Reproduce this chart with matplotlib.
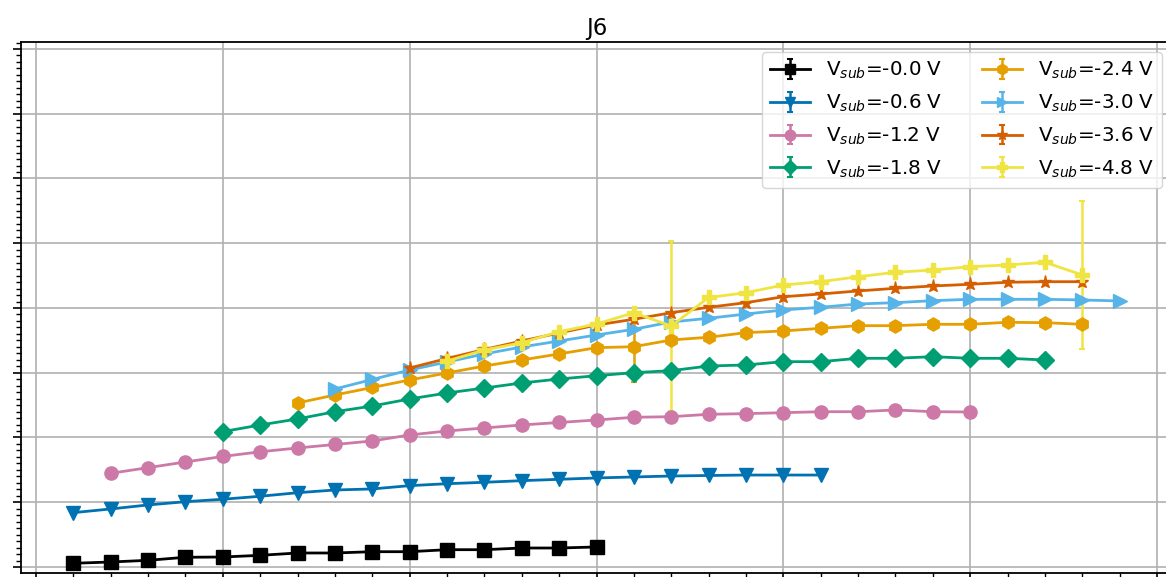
import matplotlib
matplotlib.use("Agg")
import matplotlib.pyplot as plt
from matplotlib.ticker import MultipleLocator, NullFormatter

# Shared bias grid (0.2 V steps)
bias = [0.2, 0.4, 0.6, 0.8, 1.0, 1.2, 1.4, 1.6, 1.8, 2.0, 2.2, 2.4, 2.6, 2.8,
        3.0, 3.2, 3.4, 3.6, 3.8, 4.0, 4.2, 4.4, 4.6, 4.8, 5.0, 5.2, 5.4, 5.6, 5.8]

vsub_labels = ["-0.0", "-0.6", "-1.2", "-1.8", "-2.4", "-3.0", "-3.6", "-4.8"]
start_bias = [0.2, 0.2, 0.4, 1.0, 1.4, 1.6, 2.0, 2.2]

y_00 = [0.057, 0.077, 0.103, 0.150, 0.154, 0.180, 0.216, 0.216, 0.236, 0.236,
        0.267, 0.267, 0.293, 0.293, 0.309]
y_06 = [0.839, 0.896, 0.958, 1.008, 1.046, 1.092, 1.147, 1.189, 1.205, 1.256,
        1.286, 1.308, 1.333, 1.354, 1.375, 1.390, 1.405, 1.413, 1.420, 1.420, 1.420]
y_12 = [1.447, 1.534, 1.622, 1.707, 1.779, 1.838, 1.892, 1.946, 2.039, 2.100,
        2.147, 2.193, 2.232, 2.270, 2.312, 2.321, 2.358, 2.368, 2.383, 2.398,
        2.398, 2.425, 2.398, 2.394]
y_18 = [2.090, 2.193, 2.286, 2.398, 2.486, 2.595, 2.687, 2.764, 2.842, 2.903,
        2.954, 3.001, 3.032, 3.104, 3.120, 3.171, 3.171, 3.223, 3.223, 3.248,
        3.223, 3.223, 3.197]
y_24 = [2.533, 2.656, 2.772, 2.888, 2.996, 3.104, 3.197, 3.290, 3.387, 3.402,
        3.506, 3.548, 3.619, 3.645, 3.686, 3.727, 3.727, 3.748, 3.748, 3.779,
        3.773, 3.748]
y_30 = [2.749, 2.896, 3.042, 3.166, 3.290, 3.398, 3.490, 3.583, 3.671, 3.784,
        3.841, 3.907, 3.969, 4.011, 4.062, 4.082, 4.113, 4.134, 4.134, 4.134,
        4.124, 4.108]
y_36 = [3.073, 3.220, 3.359, 3.490, 3.614, 3.737, 3.826, 3.927, 4.011, 4.082,
        4.174, 4.216, 4.263, 4.304, 4.340, 4.366, 4.397, 4.406, 4.406]
y_48 = [3.181, 3.351, 3.464, 3.634, 3.753, 3.927, 3.722, 4.162, 4.236, 4.355,
        4.406, 4.483, 4.551, 4.587, 4.638, 4.664, 4.706, 4.510]

# Non-negligible uncertainties: (bias, error)
err_24 = {3.2: 0.54}
err_48 = {3.4: 1.31, 5.6: 1.14}

series_y = [y_00, y_06, y_12, y_18, y_24, y_30, y_36, y_48]
series_err = [{}, {}, {}, {}, err_24, {}, {}, err_48]

colors = ["#000000", "#0072B2", "#CC79A7", "#009E73",
          "#E69F00", "#56B4E9", "#D55E00", "#F0E442"]
markers = ["s", "v", "o", "D", "h", ">", "*", "P"]

fig = plt.figure(figsize=(11.66, 5.77), dpi=100)
ax = fig.add_axes([21 / 1166, 4 / 577, 1151 / 1166, 531 / 577])

for lab, x0, ys, errs, c, m in zip(vsub_labels, start_bias, series_y,
                                   series_err, colors, markers):
    i0 = bias.index(x0)
    xs = bias[i0:i0 + len(ys)]
    yerr = [errs.get(x, 0.0) for x in xs]
    ax.errorbar(xs, ys, yerr=yerr, color=c, marker=m, ms=9.5, lw=2,
                elinewidth=1.8, capsize=2, capthick=1.5,
                label=r"V$_{sub}$=" + lab + " V")

ax.set_xlim(-0.08, 6.08)
ax.set_ylim(-0.093, 8.108)
ax.xaxis.set_major_locator(MultipleLocator(1))
ax.xaxis.set_minor_locator(MultipleLocator(0.2))
ax.yaxis.set_major_locator(MultipleLocator(1))
ax.yaxis.set_minor_locator(MultipleLocator(0.1))
ax.xaxis.set_major_formatter(NullFormatter())
ax.yaxis.set_major_formatter(NullFormatter())
ax.tick_params(which="major", length=6, width=1.2)
ax.tick_params(which="minor", length=3.5, width=1.0)
for sp in ax.spines.values():
    sp.set_linewidth(1.3)
ax.grid(True, which="major", color="#b0b0b0", lw=1.2)
ax.set_axisbelow(True)

ax.set_title("J6", fontsize=16.5, pad=5)
ax.legend(loc="upper right", ncol=2, fontsize=14.3, markerscale=0.8,
          borderaxespad=0.5, handlelength=2.0, labelspacing=0.58,
          columnspacing=2.0)

fig.savefig("out.png", dpi=100)
